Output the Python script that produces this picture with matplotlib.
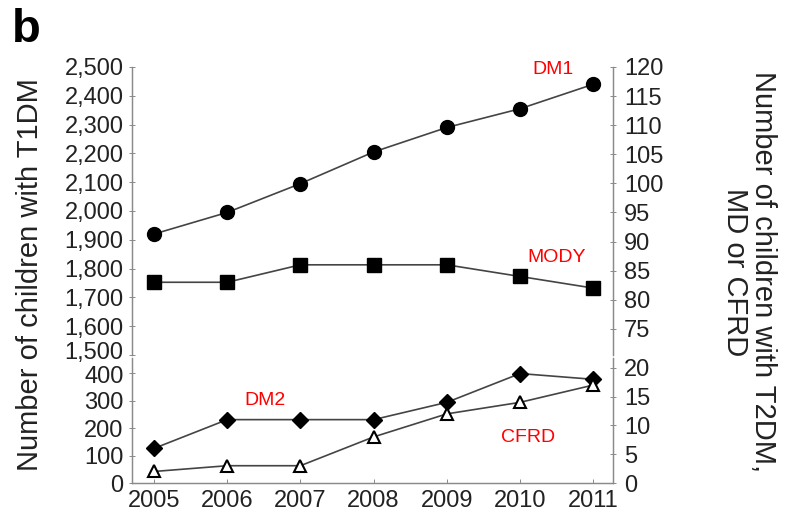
import matplotlib.pyplot as plt
from matplotlib.ticker import FuncFormatter
from matplotlib.transforms import ScaledTranslation

plt.rcParams["font.family"] = ["Liberation Sans", "DejaVu Sans"]

years = [2005, 2006, 2007, 2008, 2009, 2010, 2011]
dm1 = [1920, 1995, 2095, 2205, 2290, 2355, 2440]   # left axis, top panel
mody = [83, 83, 86, 86, 86, 84, 82]                # right axis, top panel
dm2 = [6, 11, 11, 11, 14, 19, 18]                  # right axis, bottom panel
cfrd = [2, 3, 3, 8, 12, 14, 17]                    # right axis, bottom panel

t1_ticks = list(range(1500, 2501, 100))
t2_top_ticks = list(range(75, 121, 5))
low_ticks = [0, 100, 200, 300, 400]
low_right_ticks = [0, 5, 10, 15, 20]

W, H = 786, 514
fig = plt.figure(figsize=(W / 100, H / 100), dpi=100)


def frac(x0, y0, x1, y1):
    return [x0 / W, 1 - y1 / H, (x1 - x0) / W, (y1 - y0) / H]


ax_top = fig.add_axes(frac(132, 67, 613, 355))
ax_bot = fig.add_axes(frac(132, 358, 613, 483))
ax_top_r = ax_top.twinx()
ax_bot_r = ax_bot.twinx()

spine_c = "#8a8a8a"
line_c = "#444444"
text_c = "#222222"
comma = FuncFormatter(lambda v, p: f"{int(v):,}")

for ax in (ax_top, ax_bot, ax_top_r, ax_bot_r):
    ax.set_xlim(2004.7, 2011.27)
    ax.spines["top"].set_visible(False)
    for s in ("left", "right", "bottom"):
        ax.spines[s].set_color(spine_c)
        ax.spines[s].set_linewidth(0.9)
    ax.tick_params(direction="inout", length=4, width=0.7, color=spine_c,
                   labelsize=17, labelcolor=text_c, pad=4)
    ax.patch.set_visible(False)

ax_top_r.tick_params(axis="y", pad=6)
ax_bot_r.tick_params(axis="y", pad=6)

for ax in (ax_top, ax_top_r):
    ax.spines["bottom"].set_visible(False)
    ax.tick_params(axis="x", bottom=False, labelbottom=False)

ax_bot.set_xticks(years)
ax_bot.tick_params(axis="x", direction="in", length=3, pad=5)
ax_bot_r.tick_params(axis="x", bottom=False, labelbottom=False)

# top panel: T1DM on the left, MODY on the right
ax_top.set_ylim(1500, 2500)
ax_top.set_yticks(t1_ticks)
ax_top.yaxis.set_major_formatter(comma)
ax_top_r.set_ylim(70.5, 120)
ax_top_r.set_yticks(t2_top_ticks)

ax_top.plot(years, dm1, color=line_c, lw=1.2, marker="o", ms=10,
            mfc="black", mec="black", clip_on=False)
ax_top_r.plot(years, mody, color=line_c, lw=1.2, marker="s", ms=10,
              mfc="black", mec="black", clip_on=False)

# bottom panel: T2DM and CFRD, both on the right scale
ax_bot.set_ylim(0, 455)
ax_bot.set_yticks(low_ticks)
ax_bot_r.set_ylim(0, 21.7)
ax_bot_r.set_yticks(low_right_ticks)

ax_bot_r.plot(years, dm2, color=line_c, lw=1.2, marker="D", ms=8.5,
              mfc="black", mec="black", clip_on=False)
ax_bot_r.plot(years, cfrd, color=line_c, lw=1.2, marker="^", ms=9,
              mfc="white", mec="black", mew=1.5, clip_on=False)

# nudge the labels either side of the axis break apart
up = ScaledTranslation(0, 4 / 100, fig.dpi_scale_trans)
down = ScaledTranslation(0, -1.5 / 100, fig.dpi_scale_trans)
lab = ax_top.yaxis.get_major_ticks()[0].label1
lab.set_transform(lab.get_transform() + up)
lab = ax_bot.yaxis.get_major_ticks()[-1].label1
lab.set_transform(lab.get_transform() + down)

red = "#ff0000"
ax_top.text(2010.45, 2490, "DM1", color=red, fontsize=14, ha="center", va="center")
ax_top.text(2010.5, 1840, "MODY", color=red, fontsize=14, ha="center", va="center")
ax_bot.text(2006.52, 302, "DM2", color=red, fontsize=14, ha="center", va="center")
ax_bot.text(2010.11, 167, "CFRD", color=red, fontsize=14, ha="center", va="center")

fig.text(30 / W, 1 - 275 / H, "Number of children with T1DM", rotation=90,
         ha="center", va="center", fontsize=21, color=text_c)
fig.text(749 / W, 1 - 272 / H, "Number of children with T2DM,\nMD or CFRD",
         rotation=-90, ha="center", va="center", fontsize=21, color=text_c,
         linespacing=1.0, multialignment="center")
fig.text(12 / W, 1 - 30 / H, "b", fontsize=34, fontweight="bold",
         ha="left", va="center", color="black")

fig.savefig("out.png", dpi=100)
